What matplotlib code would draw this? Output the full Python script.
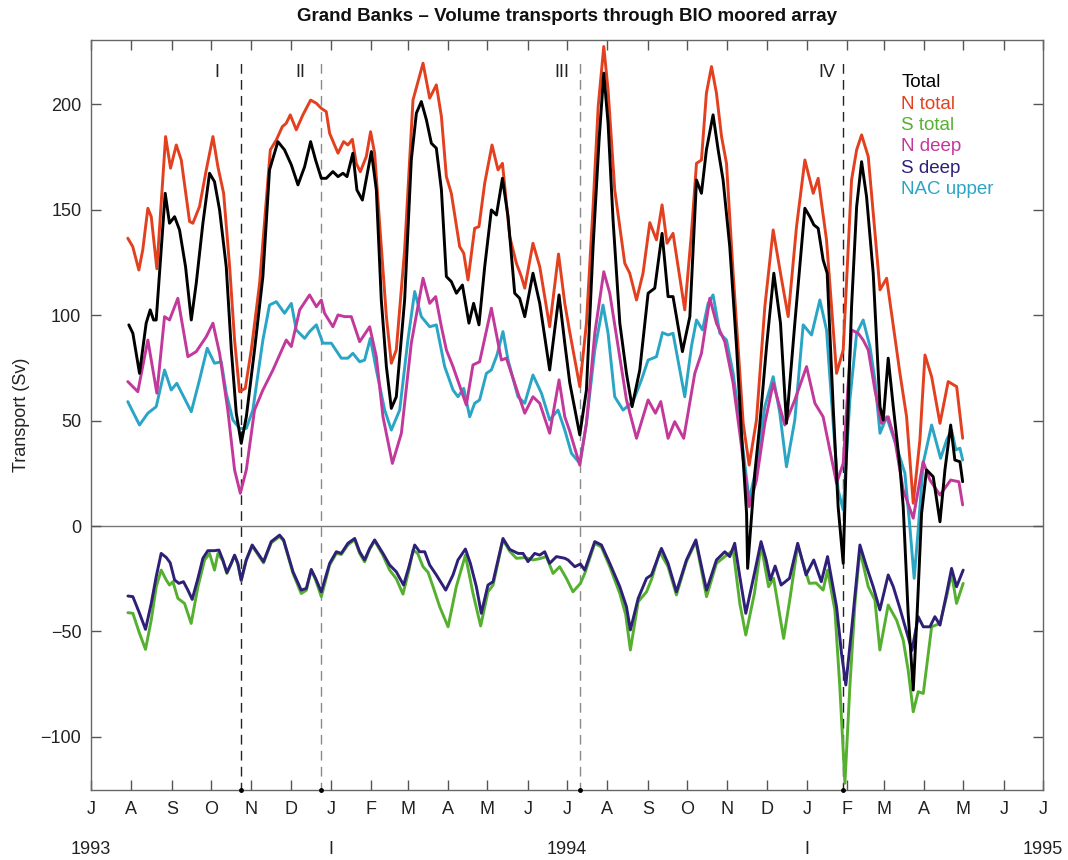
import numpy as np
import matplotlib.pyplot as plt
from matplotlib.transforms import blended_transform_factory

plt.rcParams['font.family'] = ['Liberation Sans', 'DejaVu Sans']

# x values are days since 1 July 1993, y values in Sv

tot_day = [29, 32.1, 37.2, 42.3, 45.4, 48, 50, 53.8, 56.9, 60.2, 64.1, 67.9, 72.5, 76.9, 80.7,
           85.8, 90.9, 94.7, 98.6, 103.7, 107.6, 111.4, 115.2, 119.1, 125.4, 131.8, 136.9,
           143.3, 148.4, 153.6, 158.7, 163.8, 168.4, 172.2, 176.6, 180.4, 185.5, 189.4, 193.2,
           196.3, 200.8, 203.9, 208.1, 215, 218.8, 222.6, 226.5, 230.3, 234.1, 240.5, 245.6,
           249.5, 253.3, 257.2, 261, 264.8, 268.7, 272.5, 276.3, 280.2, 284.8, 289.8, 293.4,
           297.5, 301.9, 307, 310.9, 315.5, 319.8, 324.9, 328.7, 332.6, 338.9, 344.1, 351.7,
           358.9, 363.3, 367.1, 374.8, 379.9, 385, 389.6, 393.2, 396.5, 400.3, 405.5, 410.6,
           414.9, 420.8, 427.2, 432.3, 437.9, 442.5, 446.3, 453.5, 459.2, 464.3, 468.1, 471.9,
           477, 480.9, 484.7, 489.8, 495, 498.8, 502.7, 503.5, 509, 512.9, 518, 523.6, 528.7,
           533.3, 539.7, 547.4, 551.2, 554.3, 557.6, 561.4, 564.5, 569.1, 572.9, 576.8, 578.8,
           583.2, 587.1, 590.9, 594.7, 599.8, 605, 607.5, 611.3, 615.2, 620.3, 622.8, 626.6,
           630.5, 633.5, 636.9, 640.7, 645.8, 651, 654.8, 659.2, 662.4, 666.3, 668.4]
tot_val = [95.4, 91.4, 72.4, 96.2, 102.5, 97.7, 97.7, 131, 157.8, 143.6, 146.7, 140.4, 123, 97.7,
           115.1, 143.6, 167.3, 163.3, 149.9, 123, 83.5, 53.5, 39.2, 51.8, 83.5, 118.3, 168.9,
           182.3, 178.4, 171.3, 161.8, 170.4, 182.3, 173.6, 164.9, 164.9, 168.1, 165.7, 167.3,
           165.7, 176.8, 159.4, 154.6, 177.6, 159.4, 107.2, 75.6, 55.8, 61.3, 107.2, 173.6,
           195.8, 201.3, 192.6, 181.5, 179.2, 159.4, 118.3, 115.9, 110.4, 114.3, 96.2, 105.6,
           95.4, 123, 149.9, 147.5, 164.9, 146.7, 110.4, 108, 99.3, 119.9, 105.6, 74,
           109.6, 86.7, 68, 43.2, 64.5, 132.5, 183.1, 214.8, 191, 145.2, 96.2, 72.4,
           56.6, 74, 110.4, 112.8, 138.8, 108.8, 108.8, 82.7, 99.3, 164.1, 157.8, 178.4,
           195, 178.4, 164.1, 132.5, 85.1, 44, 6, -20.1, 25, 48.7, 85.1, 119.9, 96.2,
           48.7, 96.2, 150.7, 146.7, 142.8, 141.2, 126.2, 119.9, 56.6, 9.2, -17.7, 25,
           104, 151.5, 172.8, 156.2, 119.9, 56.6, 50.3, 79.6, 56.6, 28.1, 9.2, -41.4,
           -77.8, -41.4, 6, 26.6, 23.4, 2, 26.6, 47.9, 31.3, 30.5, 21]

ntot_day = [28.2, 32, 36.7, 39.7, 43.6, 46.2, 50.5, 57.2, 61, 65.4, 69.2, 75.6, 78.1, 83.2, 88.4,
            93.5, 97.3, 101.7, 106.3, 110.1, 113.9, 118.3, 122.9, 129.3, 134.4, 137.5, 142.1,
            146.7, 149.7, 152.8, 157.4, 162.5, 168.4, 172.8, 176.6, 180.4, 183, 189.4, 193.7,
            197, 200.4, 203.4, 206.5, 211.1, 214.4, 217.5, 221.3, 226.5, 230.3, 234.1, 240.5,
            246.9, 254.6, 259.7, 264.8, 268.7, 272.5, 276.3, 282.7, 285.8, 289.1, 294.2, 297.5,
            301.9, 307.5, 312.1, 315.5, 321.1, 326.2, 330, 332.6, 338.9, 344.1, 351.7, 358.5,
            363.3, 367.1, 374.8, 379.9, 385, 388.9, 393.2, 396.5, 401.6, 409.3, 413.1, 418.3,
            423.3, 428.5, 433.6, 437.9, 441.7, 446.3, 455.3, 460.4, 464.3, 468.1, 471.9, 475.8,
            479.6, 483.5, 487.3, 492.4, 496.3, 500.1, 504.7, 510.3, 516.7, 523.1, 528.7, 534.6,
            541, 547.4, 553.8, 557.6, 564, 571.7, 576.8, 583.2, 587.1, 590.9, 596, 605, 610.1,
            620.3, 625.4, 630.5, 635.6, 639.5, 644.6, 651, 657.3, 663.8, 668.4]
ntot_val = [136.5, 132.5, 121.4, 131, 150.7, 146.7, 122, 184.7, 169.7, 180.7, 173.6, 144.4, 143.6,
            151.5, 168.9, 184.7, 170.4, 157.8, 123, 88.2, 63.7, 65.3, 83.5, 115.1, 154.6, 178.4,
            183.1, 189.4, 191, 195, 187.9, 195, 202, 200.5, 198.1, 196.5, 186.2, 176.8, 182.3,
            180.7, 183.4, 172, 168, 175.2, 187, 176.8, 143.6, 99.3, 77.2, 83.5, 131,
            202, 219.5, 202.9, 209.2, 194.2, 165.7, 157.8, 132.5, 129.4, 116.7, 141.2, 142,
            162.6, 180.7, 168.9, 172, 137.2, 124.6, 118.3, 112.8, 134.1, 123, 94.5, 129,
            105.6, 92, 66.1, 96.2, 151.5, 198.9, 227.4, 206.8, 159.4, 124.6, 119.9, 107.2,
            119.9, 143.9, 135.7, 152.3, 134.1, 138.8, 102.5, 138.8, 172, 173.6, 205.3, 217.9,
            205.3, 184.7, 172, 119.9, 83.5, 48.7, 28.9, 50.3, 104, 140.4, 119.9, 99.3,
            142, 173.6, 157.8, 164.9, 135.7, 72.4, 83.5, 164.1, 178.4, 185.5, 175.2, 112, 117.5,
            72.4, 51.8, 10.8, 40.8, 81.1, 70.8, 48.7, 68.5, 66.1, 41.6]

stot_day = [28.3, 32.1, 37.2, 41.8, 46.2, 50, 53.8, 57.7, 60.2, 62.8, 66.6, 71.7, 76.8, 82, 87.1,
            90.9, 94.7, 97.3, 101.1, 104.2, 107.5, 110.1, 112.6, 115.2, 119, 123.6, 128, 132.3,
            138.2, 144.6, 147.7, 154.9, 161.2, 165.1, 168.9, 172.2, 176.6, 183, 188.1, 191.9,
            197, 202.2, 206, 209.8, 213.7, 217.5, 223.9, 229, 234.1, 239.2, 243.8, 246.9, 250.5,
            254.6, 258.5, 262.3, 267.4, 273.8, 280.1, 287.1, 292.9, 298.8, 304.4, 308.3, 315.9,
            321.1, 326.2, 333, 339, 344, 349.2, 354.3, 359.4, 364.5, 369.6, 375.3, 378.6, 386.3,
            391.4, 397.8, 405.5, 410, 413.6, 419.6, 426, 430, 436.1, 442.5, 448.9, 456.6, 463.8,
            472, 479.6, 486, 492.4, 497.5, 502.1, 508.7, 513.8, 519.6, 523.4, 531.1, 536.2,
            541.9, 550.8, 556, 561.4, 564.8, 570.4, 574.2, 578.1, 581.9, 585.8, 589.6, 596,
            601.1, 604.9, 611.3, 617.7, 622.8, 626.6, 630.5, 634.3, 638.2, 642, 644.6, 651,
            656.1, 659.9, 663.7, 668.8]
stot_val = [-41.1, -41.4, -50.9, -58.5, -44.6, -28.8, -20.9, -25.6, -28, -26.4, -34.3, -36.7, -46.2,
            -28.8, -16.1, -13, -20.9, -13, -16.5, -22.5, -18, -14, -18, -26, -16.5, -9.5, -13.5,
            -17.5, -8, -5, -7, -22.5, -32, -30.5, -21, -25.5, -33.5, -18.5, -13, -13.5,
            -9, -6.5, -13, -17, -11, -7, -14, -20.9, -25, -32.3, -21, -11.4, -13,
            -19.3, -22, -28.8, -38.3, -47.8, -28.8, -13.8, -31.9, -47.4, -31.2, -28, -6.6,
            -12, -15.3, -15, -16.1, -15.5, -14.5, -22.5, -19.3, -24.8, -31.2, -27.2, -22.5, -8.2,
            -10, -19.3, -32, -42, -58.8, -35.9, -31.2, -25, -12.2, -19.3, -32.7, -16.9, -7.4,
            -33.5, -17.7, -14.5, -11.4, -36.7, -51.7, -32, -9, -28.8, -24.8, -53.3, -33.5,
            -9, -27.2, -27, -30.4, -20.9, -39.8, -76.2, -122, -76.2, -36.7, -11.4, -28.8,
            -35.1, -58.8, -37.5, -44.6, -54.1, -68.3, -88.1, -78.6, -79.4, -60.4, -47.8, -46.2,
            -33.5, -22.5, -36.7, -27.2]

ndeep_day = [28.2, 35.9, 43.6, 50.5, 56.4, 60.2, 66.6, 74.3, 80.7, 88.4, 93.5, 98.6, 104.9, 110.1,
             114.5, 119.1, 125.4, 131.8, 139.5, 149.7, 153.6, 160, 167.6, 172.8, 176.6, 179.1,
             185.5, 189.4, 194.5, 199.6, 206, 213.7, 218.8, 223.9, 231.1, 238, 245.6, 254.6,
             259.7, 264.3, 268.7, 272.5, 277.6, 287.8, 292.9, 298, 307, 314.7, 318.5, 327.4,
             332.6, 338.9, 344.1, 351.7, 358.9, 363.3, 367.1, 374.8, 379.9, 386.3, 393.2, 397.8,
             404.2, 410.6, 418.3, 427.2, 432.8, 436.9, 442.5, 447.6, 454.5, 463, 468.1, 474.5,
             479.6, 486, 492.4, 497.5, 504.7, 510.3, 516.7, 523.1, 532, 539.7, 548.7, 555.1,
             561.4, 571.7, 576.8, 583.2, 588.3, 592.1, 596, 601.1, 606.2, 611.3, 616.4, 622.8,
             630.5, 634.3, 638.1, 643.3, 651, 659.2, 665.5, 668.4]
ndeep_val = [68.5, 63.7, 88.2, 63, 99.3, 97.7, 108, 80.3, 82.7, 89.8, 96.2, 81.9, 55, 26.6,
             15.5, 26.6, 55, 64.5, 74, 88.2, 85.1, 102.5, 109.6, 104, 107.2, 100.9,
             94.5, 100.1, 99.3, 99.3, 87.4, 94.5, 80.3, 51.8, 29.7, 44, 86.7, 117.5,
             105.6, 108.8, 94.5, 83.5, 75.6, 57.4, 76.4, 77.9, 103.3, 78.7, 79.6, 63,
             53.5, 61.3, 58.2, 44, 69.3, 51.8, 45, 28.9, 48.7, 91.4, 120.6, 110.4,
             85.1, 59.8, 41.6, 59.8, 53.5, 59, 41.6, 49.5, 41.6, 72.4, 81.9, 108,
             96.2, 87.4, 67.7, 44, 9.2, 21.8, 48.7, 67.7, 47.9, 59.8, 75.6, 58.2,
             51.8, 20.3, 29.7, 93, 91.4, 88.2, 83.5, 64.5, 48.7, 51.8, 40.8, 17.1,
             3.7, 17.1, 30.5, 21.8, 14.7, 21.8, 21, 10]

sdeep_day = [28.3, 32.1, 37.2, 41.8, 46.2, 50, 53.8, 57.7, 60.7, 64.1, 67.4, 70.9, 74.3, 77.6, 82,
             85.8, 89.6, 94.7, 98.1, 101.1, 104.2, 107.5, 110.1, 112.6, 115.2, 119, 123.6, 128,
             132.3, 138.2, 144.6, 147.7, 154.9, 161.2, 165.1, 168.9, 172.2, 176.6, 183, 188.1,
             191.9, 197, 202.2, 206, 209.8, 213.7, 217.5, 223.9, 229, 234.1, 239.7, 243.8, 248.2,
             252, 255.9, 259.7, 264.8, 272, 277.6, 281.4, 287.1, 290.9, 295.5, 299.3, 304.4,
             308.3, 312.1, 315.9, 321.1, 327.5, 331.3, 335.1, 340.2, 344.1, 347.9, 351.7, 356.9,
             363.3, 365.8, 371, 375.3, 378.6, 386.3, 391.4, 397.8, 405.5, 410.6, 413.6, 419.6,
             426, 429.8, 437.4, 442.5, 448.9, 456.6, 463.8, 472, 479.6, 486, 489.8, 493.6, 497.5,
             502.1, 508.7, 513.8, 517.7, 520.9, 524.6, 529.2, 535.6, 541.9, 548.3, 554.2, 560,
             564.8, 571.7, 575.5, 578.8, 583.2, 589.6, 594.7, 599.8, 604.9, 611.3, 615.2, 620.3,
             629.5, 634.3, 638.2, 643.3, 647.1, 651, 656.1, 659.9, 663.7, 668.8]
sdeep_val = [-33.2, -33.5, -41.4, -49, -36.7, -24, -13, -14.9, -17.4, -25.6, -27.2, -26.4, -30.4,
             -34.8, -24.8, -15.3, -11.7, -11.7, -11.4, -16.1, -22.1, -17.7, -13.8, -17.7, -25.6,
             -16.1, -9, -13, -16.9, -7.4, -4.3, -6.6, -21.7, -30.4, -29.6, -20.6, -24.8, -31.2,
             -17.7, -12.2, -13, -8.2, -5.9, -12.2, -16.1, -10.6, -6.6, -13, -18.5, -21.7, -28,
             -19.3, -9, -12.2, -12.2, -18.5, -23.2, -30.4, -23.2, -16.1, -10.9, -17.7, -28.8,
             -41.4, -28, -26.4, -16.1, -5.9, -11.1, -13, -13, -16.9, -13, -13.8, -12.2, -17.7,
             -14.5, -15.3, -16.1, -19.3, -18, -20.9, -7.4, -9, -17.7, -28.8, -38.3, -49.3, -34.3,
             -24.8, -23.2, -10.6, -17.7, -31.2, -16.1, -6.6, -30.4, -16.1, -12.2, -14.5, -8.2,
             -24, -41.4, -22.5, -7.4, -16.1, -25.6, -19, -28, -24.8, -8.2, -23.2, -16.1, -26.4,
             -14.5, -38.3, -60.4, -75.4, -49.3, -9, -19.3, -28.8, -39.8, -23.2, -28.8, -39.1,
             -59, -43, -47.8, -47.8, -43, -47, -31.9, -20.1, -28.8, -20.9]

nac_day = [28.2, 37.2, 43.6, 50, 56.4, 61.5, 65.8, 76.9, 83.2, 89.1, 94.7, 99.9, 103.7, 108.8,
           113.9, 119.1, 124.1, 131.8, 136.9, 142.1, 148.4, 153.6, 157.4, 163.8, 167.6, 172.8,
           177.8, 184.3, 191.9, 197, 200.8, 206, 209.8, 214.2, 218.8, 225.2, 230.3, 236.7, 243,
           248.2, 253.3, 259.7, 264.8, 271.2, 277.6, 281.4, 285.8, 290.4, 294.2, 298, 303.2,
           307, 311.3, 315.9, 319.8, 327.4, 332.6, 338.9, 345.4, 351.7, 358.1, 363.3, 368.4,
           374.8, 379.9, 386.3, 392.6, 396.5, 401.6, 408, 415.6, 422.1, 427.2, 433.6, 438.2,
           442.5, 446.3, 455.3, 460.4, 464.3, 468.9, 473.2, 477, 482.2, 487.3, 492.4, 497.5,
           504.7, 510.3, 516.7, 523.1, 528.2, 533.3, 539.7, 546.1, 552.5, 558.9, 564, 569.1,
           572.9, 576.8, 581.9, 587.1, 592.1, 597.3, 601.1, 605, 610.1, 617.7, 624.1, 627.9,
           631.2, 634.3, 638.1, 644.6, 648.4, 651.5, 656.1, 659.9, 663.2, 666.3, 668.4]
nac_val = [59, 47.9, 53.5, 56.6, 74, 64.5, 67.7, 54.2, 69.3, 84.3, 77.2, 77.9, 63, 50.3,
           46.3, 46.3, 55, 88.2, 104.8, 106.4, 100.9, 105.6, 93, 89, 92.2, 95.4,
           86.7, 86.7, 79.6, 79.6, 81.9, 77.9, 78.7, 89, 74, 55, 45.5, 55, 88.2,
           111.2, 99.3, 94.5, 95.4, 75.6, 64.5, 61.3, 65.3, 51.8, 58.2, 59.8, 72.4,
           74, 81.1, 92.2, 78.7, 61.3, 58.2, 71.6, 63, 50.3, 55, 45.5, 34.5,
           29.7, 48.7, 83.5, 104.8, 91.4, 61.3, 55, 59, 69.3, 78.7, 80.3, 91.7,
           90.6, 91.4, 61.3, 85.1, 97.7, 93, 105.6, 109.6, 91.4, 88.2, 72.4, 48.7,
           12.3, 28.1, 56.6, 70.8, 53.5, 28.1, 50.3, 95.4, 90.6, 107.2, 93, 48.7,
           17.1, 7.6, 59.8, 91.4, 97.7, 85.1, 69.3, 44, 51.8, 37.6, 25, -0.3,
           -24.8, -1.9, 29.7, 47.9, 39.2, 32.1, 40.8, 45.5, 36.1, 36.9, 31.3]

event_day = [114.7, 176.6, 374.8, 576.8]
event_names = ['I', 'II', 'III', 'IV']
event_label_day = [96.8, 160.7, 361.4, 564.3]
event_colors = ['#222222', '#8a8a8a', '#8a8a8a', '#222222']

month_letters = list('JASONDJFMAMJJASONDJFMAMJJ')
year_names = ['1993', 'I', '1994', 'I', '1995']
year_dates = ['1993-07-01', '1994-01-01', '1994-07-01', '1995-01-01', '1995-07-01']

series = [
    ('Total', tot_day, tot_val, 'black'),
    ('N total', ntot_day, ntot_val, '#e2401f'),
    ('S total', stot_day, stot_val, '#55b030'),
    ('N deep', ndeep_day, ndeep_val, '#c2399b'),
    ('S deep', sdeep_day, sdeep_val, '#2e1f78'),
    ('NAC upper', nac_day, nac_val, '#2aa5c5'),
]

start = np.datetime64('1993-07-01', 'D')
months = np.arange(np.datetime64('1993-07'), np.datetime64('1995-08'), dtype='datetime64[M]')
month_pos = (months.astype('datetime64[D]') - start).astype(int)
year_pos = [(np.datetime64(d, 'D') - start).astype(int) for d in year_dates]

fig = plt.figure(figsize=(10.68, 8.6), dpi=100)
ax = fig.add_axes([91 / 1068, 1 - 790 / 860, 952 / 1068, 750 / 860])

ax.axhline(0, color='#777777', lw=1.0, zorder=1)

# draw order: cyan, magenta, green, indigo, red, black on top
for idx in [5, 3, 2, 4, 1, 0]:
    name, d, v, c = series[idx]
    ax.plot(d, v, color=c, lw=2.1, solid_joinstyle='round', solid_capstyle='round', zorder=3)

for d, c in zip(event_day, event_colors):
    ax.vlines(d, -126, 220, colors=c, linestyles=(0, (7, 4.5)), lw=1.0, zorder=2)
    ax.plot(d, -125.2, 'o', color='black', ms=2.5, clip_on=False, zorder=4)
for d, name in zip(event_label_day, event_names):
    ax.text(d, 215, name, ha='center', va='center', fontsize=13, color='#222222')

for i, (name, d, v, c) in enumerate(series):
    ax.text(0.851, 0.943 - i * 0.0285, name, transform=ax.transAxes, color=c,
            fontsize=13.5, ha='left', va='center')

ax.set_xlim(0, 730)
ax.set_ylim(-125.2, 230.5)
ax.set_xticks(month_pos)
ax.set_xticklabels(month_letters)
ax.set_yticks([-100, -50, 0, 50, 100, 150, 200])
ax.set_yticklabels(['\u2212100', '\u221250', '0', '50', '100', '150', '200'])
ax.tick_params(direction='in', length=7, width=1, color='#555555', labelsize=13,
               labelcolor='#222222', top=True, right=True)
ax.tick_params(axis='x', pad=8)
ax.tick_params(axis='y', pad=7)
for s in ax.spines.values():
    s.set_color('#666666')
    s.set_linewidth(1.0)

trans = blended_transform_factory(ax.transData, ax.transAxes)
for p, name in zip(year_pos, year_names):
    ax.text(p, -0.079, name, transform=trans, ha='center', va='center',
            fontsize=13, color='#222222', clip_on=False)

ax.set_ylabel('Transport (Sv)', fontsize=13, color='#222222')
ax.yaxis.set_label_coords(-0.064, 0.5)
ax.set_title('Grand Banks \u2013 Volume transports through BIO moored array',
             fontsize=13.5, fontweight='bold', pad=14, color='#111111')

fig.savefig('out.png', dpi=100)
